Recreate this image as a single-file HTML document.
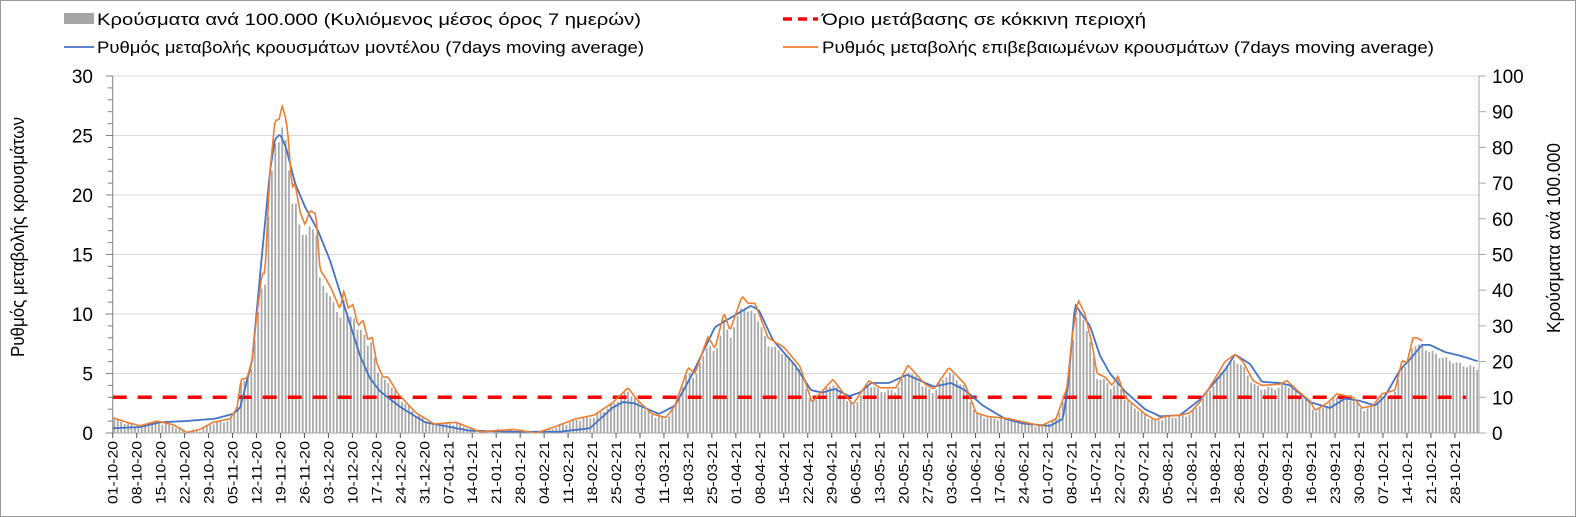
<!DOCTYPE html>
<html><head><meta charset="utf-8"><style>
html,body{margin:0;padding:0;background:#fff}
svg{display:block}
text{font-family:"Liberation Sans",sans-serif;fill:#000}
</style></head><body>
<svg id="s" width="1576" height="517" viewBox="0 0 1576 517" xmlns="http://www.w3.org/2000/svg">
<rect x="0.5" y="0.5" width="1575" height="516" fill="#fff" stroke="#999"/>
<g id="grid"></g>
<g id="bars"></g>
<line x1="112.7" y1="397.3" x2="1466" y2="397.3" stroke="#ff0000" stroke-width="3.5" stroke-dasharray="14,11"/>
<polyline id="blue" fill="none" stroke="#4472c4" stroke-width="1.8"/>
<polyline id="orange" fill="none" stroke="#ed7d31" stroke-width="1.6"/>
<g id="axes"></g>
<rect x="64" y="13" width="30" height="11" fill="#a5a5a5"/>
<text x="97" y="25" font-size="17" textLength="544" lengthAdjust="spacingAndGlyphs">Κρούσματα ανά 100.000 (Κυλιόμενος μέσος όρος 7 ημερών)</text>
<line x1="783" y1="19" x2="818" y2="19" stroke="#ff0000" stroke-width="3.5" stroke-dasharray="9,6"/>
<text x="822" y="25" font-size="17" textLength="324" lengthAdjust="spacingAndGlyphs">Όριο μετάβασης σε κόκκινη περιοχή</text>
<line x1="64" y1="47" x2="94" y2="47" stroke="#4472c4" stroke-width="1.8"/>
<text x="97" y="53" font-size="17" textLength="547" lengthAdjust="spacingAndGlyphs">Ρυθμός μεταβολής κρουσμάτων μοντέλου (7days moving average)</text>
<line x1="783" y1="47" x2="818" y2="47" stroke="#ed7d31" stroke-width="1.8"/>
<text x="822" y="53" font-size="17" textLength="612" lengthAdjust="spacingAndGlyphs">Ρυθμός μεταβολής επιβεβαιωμένων κρουσμάτων (7days moving average)</text>
<text transform="translate(24,237) rotate(-90)" font-size="18" text-anchor="middle" textLength="240" lengthAdjust="spacingAndGlyphs">Ρυθμός μεταβολής κρουσμάτων</text>
<text transform="translate(1560,238) rotate(-90)" font-size="18" text-anchor="middle" textLength="190" lengthAdjust="spacingAndGlyphs">Κρούσματα ανά 100.000</text>
</svg>
<script>
var X0=112.7,X1=1479,YB=433,YT=76,U=(YB-YT)/30,DX=3.424;
var ns="http://www.w3.org/2000/svg";
function el(p,t,a,txt){var e=document.createElementNS(ns,t);for(var k in a)e.setAttribute(k,a[k]);if(txt!=null)e.textContent=txt;document.getElementById(p).appendChild(e);return e;}
function interp(k,x){if(x<=k[0][0])return k[0][1];for(var i=1;i<k.length;i++){if(x<=k[i][0]){var a=k[i-1],b=k[i];return a[1]+(b[1]-a[1])*(x-a[0])/(b[0]-a[0]);}}return k[k.length-1][1];}
function Y(v){return YB-v*U;}
for(var v=5;v<=30;v+=5)el("grid","line",{x1:X0,x2:X1,y1:Y(v),y2:Y(v),stroke:"#d9d9d9","stroke-width":1});
var O=[[112,1.3],[127,0.9],[140,0.6],[157,1.0],[173,0.7],[187,0.05],[200,0.3],[213,0.9],[230,1.2],[237,2.1],[241,4.5],[247,4.6],[252,6.1],[257,10],[262,13.4],[265,13.4],[270,22],[275,26.3],[279,26.3],[282,27.5],[286,26.4],[288,25],[292,20.6],[295,21],[300,18.6],[305,17.5],[310,18.7],[316,18.4],[320,13.7],[325,13.1],[332,12],[340,10.4],[344,12],[348,10.5],[353,10.8],[358,9],[363,9.5],[368,7.8],[372,8.1],[377,5.8],[383,4.7],[388,4.7],[398,3.3],[416,1.7],[434,0.76],[456,0.9],[480,0.1],[514,0.3],[536,0],[554,0.5],[576,1.2],[594,1.5],[612,2.5],[628,3.8],[637,2.8],[652,1.6],[666,1.3],[675,2.3],[688,5.5],[695,5.0],[708,8.1],[715,7.1],[724,10.1],[730,8.6],[742,11.5],[748,10.9],[755,10.9],[768,8.0],[784,7.2],[800,5.6],[812,2.6],[833,4.5],[844,3.3],[853,2.4],[869,4.4],[880,3.8],[896,3.8],[908,5.7],[925,4.1],[934,3.7],[949,5.5],[965,4.1],[976,1.7],[987,1.4],[1009,1.2],[1041,0.6],[1056,1.2],[1067,3.8],[1072,8],[1078,11.2],[1085,10.0],[1092,7.5],[1097,5.0],[1105,4.7],[1112,4.0],[1118,4.8],[1125,3.0],[1135,2.3],[1145,1.6],[1155,1.1],[1165,1.4],[1180,1.5],[1190,1.7],[1200,2.6],[1213,4.3],[1225,6.0],[1235,6.6],[1243,6.0],[1253,4.4],[1262,4.0],[1280,4.1],[1287,4.4],[1297,3.6],[1310,2.7],[1315,1.9],[1327,2.5],[1337,3.3],[1347,3.1],[1353,3.0],[1362,2.1],[1373,2.3],[1382,3.3],[1395,3.6],[1402,6.1],[1407,5.9],[1413,8.0],[1417,8.0],[1423,7.7]];
var B=[[112,0.4],[140,0.5],[160,0.9],[185,1.0],[215,1.2],[233,1.6],[240,2.1],[252,6],[262,15],[270,22],[275,24.7],[280,25.1],[286,24],[295,21],[305,19],[318,17],[330,14.5],[345,10.5],[360,6.5],[370,4.6],[380,3.5],[400,2.2],[425,0.9],[469,0.2],[514,0.1],[559,0.1],[590,0.4],[612,2.1],[623,2.6],[634,2.5],[659,1.6],[675,2.3],[692,4.9],[715,8.9],[733,9.8],[751,10.7],[759,10.3],[773,7.8],[795,5.7],[811,3.6],[822,3.4],[835,3.7],[849,3.1],[860,3.4],[871,4.2],[889,4.2],[907,4.9],[920,4.4],[934,3.9],[951,4.2],[965,3.6],[983,2.3],[1005,1.2],[1023,0.8],[1050,0.6],[1063,1.2],[1068,4],[1075,10.8],[1090,9],[1100,6.5],[1110,5],[1125,3.5],[1145,2.0],[1160,1.4],[1180,1.5],[1200,2.8],[1225,5.3],[1235,6.6],[1250,5.8],[1262,4.3],[1280,4.2],[1290,4.0],[1310,2.6],[1330,2.1],[1345,2.9],[1360,2.7],[1375,2.3],[1385,3.1],[1400,5.3],[1410,6.2],[1422,7.4],[1430,7.4],[1445,6.8],[1460,6.5],[1479,6.0]];
var BAR=O.concat([[1430,7.4],[1440,6.9],[1460,6.2],[1479,5.8]]);
var bp=[],op=[];
for(var x=X0;x<=X1+0.1;x+=1.5){bp.push(x.toFixed(1)+","+Y(interp(B,x)).toFixed(1));}
for(var x=X0;x<=1423;x+=1.5){op.push(x.toFixed(1)+","+Y(interp(O,x)).toFixed(1));}
document.getElementById("blue").setAttribute("points",bp.join(" "));
document.getElementById("orange").setAttribute("points",op.join(" "));
for(var d=0;d<399;d++){var x=X0+d*DX+1.7;var v=interp(BAR,x)*0.93+0.15*Math.sin(d*1.7);if(v<0.05)v=0.05;
el("bars","rect",{x:(x-0.9).toFixed(1),y:Y(v).toFixed(1),width:1.8,height:(v*U).toFixed(1),fill:"#a8a8a8"});}
el("axes","line",{x1:X0,x2:X0,y1:YT,y2:YB,stroke:"#808080"});
el("axes","line",{x1:X1,x2:X1,y1:YT,y2:YB,stroke:"#a6a6a6"});
el("axes","line",{x1:X0,x2:X1,y1:YB,y2:YB,stroke:"#a6a6a6"});
for(var v=0;v<=30;v++){var y=Y(v);el("axes","line",{x1:v%5==0?X0-7:X0-5,x2:X0,y1:y,y2:y,stroke:"#808080"});}
for(var v=0;v<=30;v+=5)el("axes","text",{x:93,y:Y(v)+7,"font-size":"19","text-anchor":"end"},v);
for(var v=0;v<=100;v+=10){var y=YB-v*(YB-YT)/100;el("axes","line",{x1:X1,x2:X1+7,y1:y,y2:y,stroke:"#a6a6a6"});el("axes","text",{x:1492,y:y+7,"font-size":"19"},v);}
var start=new Date(2020,9,1);
function p(n){return(n<10?"0":"")+n;}
for(var w=0;w<=56;w++){var x=X0+w*7*DX;el("axes","line",{x1:x,x2:x,y1:YB,y2:YB+5,stroke:"#555"});
var dt=new Date(start.getTime()+w*7*86400000+3600000*12);
var s=p(dt.getDate())+"-"+p(dt.getMonth()+1)+"-"+String(dt.getFullYear()).slice(2);
el("axes","text",{transform:"translate("+(x+5)+",441) rotate(-90)","font-size":"14","text-anchor":"end",textLength:"63",lengthAdjust:"spacingAndGlyphs"},s);}
</script>
</body></html>
